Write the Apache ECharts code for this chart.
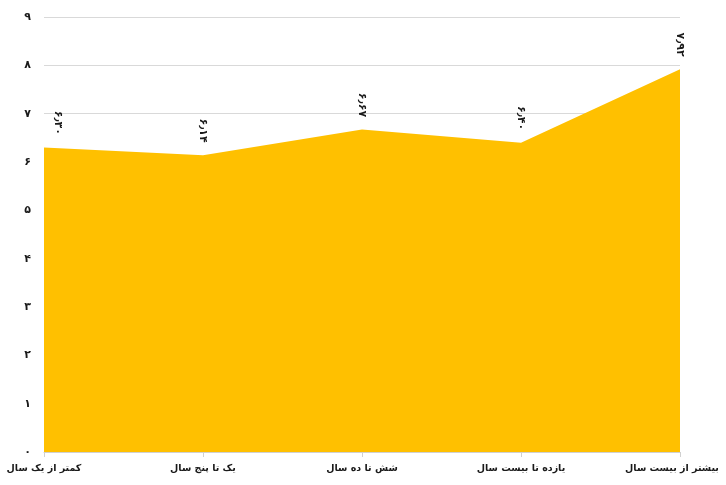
<!DOCTYPE html>
<html>
<head>
<meta charset="utf-8">
<script src="https://cdn.jsdelivr.net/npm/echarts@6/dist/echarts.min.js"></script>
<style>
  html, body { margin: 0; padding: 0; background: #fff; }
  #main { width: 726px; height: 485px; }
</style>
</head>
<body>
<div id="main"></div>
<script>
// داده‌ها
const categories = ['کمتر از یک سال', 'یک تا پنج سال', 'شش تا ده سال', 'یازده تا بیست سال', 'بیشتر از بیست سال']
const values = [6.30, 6.14, 6.67, 6.40, 7.92]
const yTicks = [0, 1, 2, 3, 4, 5, 6, 7, 8, 9]

const faDigits = '۰۱۲۳۴۵۶۷۸۹'
function toFa(str) {
    return String(str).replace(/[0-9]/g, d => faDigits[d]).replace('.', '٫')
}

const myChart = echarts.init(document.getElementById('main'))
const font = '"DejaVu Sans", sans-serif'
const last = categories.length - 1

myChart.setOption({
    animation: false,
    grid: { left: 44, right: 46, top: 17, bottom: 33, outerBoundsMode: 'none' },
    xAxis: {
        type: 'category',
        // آخرین برچسب کمی به چپ تا بریده نشود
        data: categories.map((c, i) => i === last
            ? { value: c, textStyle: { padding: [0, 16, 0, 0] } }
            : c),
        boundaryGap: false,
        axisLine: { lineStyle: { color: '#d0d0d0' } },
        axisTick: { show: true, alignWithLabel: true, length: 5, lineStyle: { color: '#d0d0d0' } },
        axisLabel: {
            color: '#1a1a1a', fontSize: 9.5, fontWeight: 'bold', fontFamily: font,
            margin: 12, interval: 0
        }
    },
    yAxis: {
        type: 'value',
        min: yTicks[0],
        max: yTicks[yTicks.length - 1],
        interval: 1,
        axisLine: { show: false },
        axisTick: { show: false },
        splitLine: { lineStyle: { color: '#d9d9d9' } },
        axisLabel: {
            color: '#1a1a1a', fontSize: 11, fontWeight: 'bold', fontFamily: font,
            margin: 13, formatter: v => toFa(v)
        }
    },
    series: [{
        type: 'line',
        data: values.map((v, i) => ({
            value: v,
            label: i === 0 ? { offset: [0, -14] } : undefined
        })),
        symbol: 'circle',
        symbolSize: 1,
        showSymbol: true,
        itemStyle: { color: 'rgba(0,0,0,0)' },
        lineStyle: { width: 0 },
        areaStyle: { color: '#ffc000', opacity: 1 },
        label: {
            show: true,
            position: 'top',
            rotate: -90,
            align: 'right',
            verticalAlign: 'middle',
            distance: 12,
            color: '#1a1a1a',
            fontSize: 11,
            fontWeight: 'bold',
            fontFamily: font,
            formatter: p => '\u200E' + toFa(p.value.toFixed(2))
        }
    }]
})
</script>
</body>
</html>
